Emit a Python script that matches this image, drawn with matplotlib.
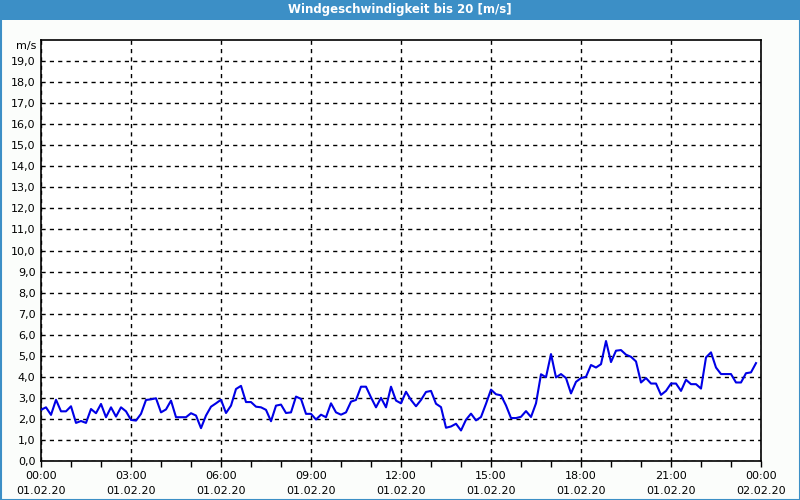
import numpy as np
import matplotlib.pyplot as plt
from matplotlib.patches import Rectangle
from matplotlib.ticker import MultipleLocator

# wind speed, 10-minute samples from 01.02.20 00:00
speed = [2.43, 2.55, 2.19, 2.91, 2.36, 2.36, 2.6, 1.81, 1.9, 1.81,
         2.47, 2.27, 2.71, 2.08, 2.55, 2.11, 2.55, 2.36, 1.95, 1.92,
         2.24, 2.9, 2.93, 2.98, 2.31, 2.45, 2.87, 2.08, 2.08, 2.08,
         2.27, 2.16, 1.56, 2.16, 2.58, 2.74, 2.91, 2.28, 2.63, 3.42,
         3.57, 2.8, 2.8, 2.58, 2.55, 2.43, 1.89, 2.63, 2.68, 2.28,
         2.31, 3.06, 2.95, 2.24, 2.24, 1.97, 2.2, 2.08, 2.74, 2.31,
         2.2, 2.31, 2.82, 2.9, 3.53, 3.53, 3.02, 2.55, 3.0, 2.55,
         3.53, 2.87, 2.74, 3.29, 2.9, 2.6, 2.9, 3.28, 3.33, 2.72,
         2.56, 1.58, 1.64, 1.77, 1.45, 1.96, 2.25, 1.93, 2.09, 2.72,
         3.39, 3.17, 3.12, 2.64, 2.04, 2.04, 2.1, 2.37, 2.09, 2.74,
         4.12, 3.98, 5.08, 3.97, 4.13, 3.94, 3.21, 3.76, 3.94, 4.0,
         4.56, 4.44, 4.6, 5.7, 4.7, 5.24, 5.27, 5.05, 4.95, 4.73,
         3.73, 3.94, 3.68, 3.68, 3.14, 3.33, 3.68, 3.68, 3.33, 3.86,
         3.65, 3.65, 3.44, 4.92, 5.16, 4.44, 4.13, 4.13, 4.13, 3.73,
         3.73, 4.17, 4.21, 4.65]
hours = np.arange(len(speed)) / 6.0

tick_hours = [0, 3, 6, 9, 12, 15, 18, 21, 24]
tick_times = ["00:00", "03:00", "06:00", "09:00", "12:00", "15:00", "18:00", "21:00", "00:00"]
tick_dates = ["01.02.20"] * 8 + ["02.02.20"]
y_ticks = np.arange(0, 20)

title = "Windgeschwindigkeit bis 20 [m/s]"
bar_blue = "#3c8fc6"

plt.rcParams['font.family'] = ['DejaVu Sans']
fig = plt.figure(figsize=(8, 5), dpi=100, facecolor="#fbfdfb")

# title bar + frame
fig.patches.append(Rectangle((0, 1 - 20/500), 1, 20/500, transform=fig.transFigure,
                             facecolor=bar_blue, edgecolor="none", zorder=0))
fig.patches.append(Rectangle((0.5/800, 0.5/500), 1 - 1/800, 1 - 1/500, transform=fig.transFigure,
                             facecolor="none", edgecolor=bar_blue, linewidth=1.5, zorder=5))
fig.text(0.5, 1 - 10/500, title, color="white", ha="center", va="center",
         fontsize=8.5, fontweight="bold")

ax = fig.add_axes([41/800, 39/500, 720/800, 421/500])
ax.set_facecolor("white")
ax.plot(hours, speed, color="#0000e6", linewidth=1.5, zorder=3)

ax.set_xlim(0, 24)
ax.set_ylim(0, 20)
ax.set_yticks(y_ticks)
ax.set_yticklabels([f"{v},0" for v in y_ticks], fontsize=8)
ax.set_xticks(tick_hours)
ax.set_xticklabels([f"{t}\n{d}" for t, d in zip(tick_times, tick_dates)], fontsize=8,
                   linespacing=1.6)
ax.xaxis.set_minor_locator(MultipleLocator(1))
ax.tick_params(axis="x", which="both", direction="out", length=4, width=1, pad=3)
ax.tick_params(axis="y", length=0, pad=4)

ax.grid(True, color="black", linestyle=(0, (3, 3)), linewidth=1)
for s in ax.spines.values():
    s.set_color("black")
    s.set_linewidth(1.2)

ax.text(-0.006, 19.7, "m/s", transform=ax.get_yaxis_transform(), ha="right",
        va="center", fontsize=8)

fig.savefig("out.png", dpi=100, facecolor=fig.get_facecolor())
